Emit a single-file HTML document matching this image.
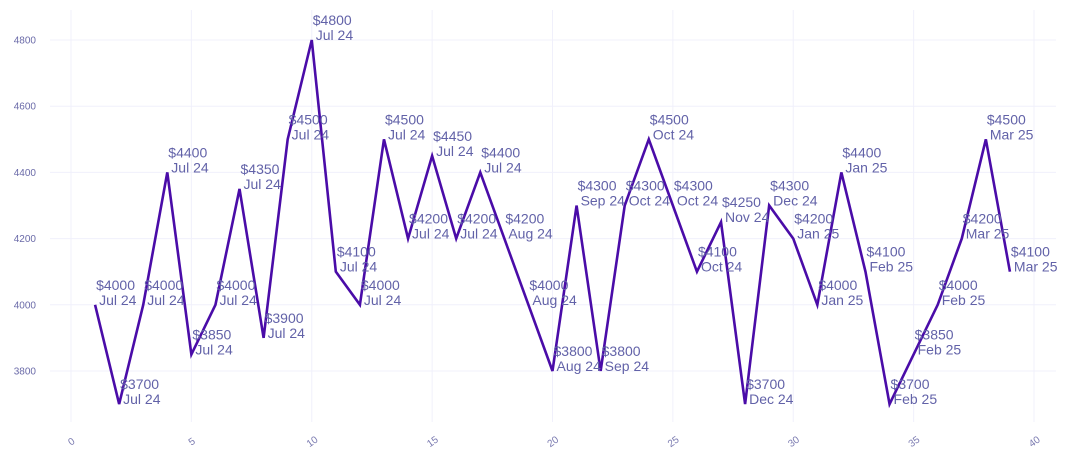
<!DOCTYPE html>
<html><head><meta charset="utf-8"><style>
body{margin:0;background:#fff;}
svg text{font-family:"Liberation Sans",sans-serif;}
</style></head><body>
<svg id="chart" width="1075" height="462" xmlns="http://www.w3.org/2000/svg">
<g id="grid"></g>
<g id="axes"></g>
<g id="series"></g>
<g id="labels"></g>
</svg>
<script>
const xValues=[1,2,3,4,5,6,7,8,9,10,11,12,13,14,15,16,17,18,19,20,21,22,23,24,25,26,27,28,29,30,31,32,33,34,35,36,37,38,39];
const prices=[4000,3700,4000,4400,3850,4000,4350,3900,4500,4800,4100,4000,4500,4200,4450,4200,4400,4200,4000,3800,4300,3800,4300,4500,4300,4100,4250,3700,4300,4200,4000,4400,4100,3700,3850,4000,4200,4500,4100];
const months=["Jul 24","Jul 24","Jul 24","Jul 24","Jul 24","Jul 24","Jul 24","Jul 24","Jul 24","Jul 24","Jul 24","Jul 24","Jul 24","Jul 24","Jul 24","Jul 24","Jul 24","Aug 24","Aug 24","Aug 24","Sep 24","Sep 24","Oct 24","Oct 24","Oct 24","Oct 24","Nov 24","Dec 24","Dec 24","Jan 25","Jan 25","Jan 25","Feb 25","Feb 25","Feb 25","Feb 25","Mar 25","Mar 25","Mar 25"];
const xTicks=[0,5,10,15,20,25,30,35,40];
const yTicks=[3800,4000,4200,4400,4600,4800];
const NS="http://www.w3.org/2000/svg";
const X=v=>71+v*24.075;
const Y=v=>40+(4800-v)*0.331;
function mk(tag,attrs,parent){const e=document.createElementNS(NS,tag);for(const k in attrs)e.setAttribute(k,attrs[k]);parent.appendChild(e);return e;}
const grid=document.getElementById('grid'),axes=document.getElementById('axes'),series=document.getElementById('series'),labels=document.getElementById('labels');
xTicks.forEach(t=>{
 const l=mk('line',{x1:X(t),x2:X(t),y1:10,y2:422,stroke:'#f0f0fb','stroke-width':1},grid);
 
 
 const tx=mk('text',{x:X(t),y:445,'font-size':10,fill:'#7a7ab0','text-anchor':'middle',transform:`rotate(-35 ${X(t)} 441)`},axes);
 tx.textContent=t;
 
 
});
yTicks.forEach(t=>{
 const l=mk('line',{x1:50,x2:1056,y1:Y(t),y2:Y(t),stroke:'#f0f0fb','stroke-width':1},grid);
 
 
 const tx=mk('text',{x:36,y:Y(t)+3.5,'font-size':10,fill:'#6a6aa8','text-anchor':'end'},axes);
 tx.textContent=t;
 
 
});
const pts=xValues.map((x,i)=>X(x)+','+Y(prices[i])).join(' ');
const pl=mk('polyline',{points:pts,fill:'none',stroke:'#4a0ca8','stroke-width':2.6,'stroke-linejoin':'miter'},series);


xValues.forEach((x,i)=>{
 const px=X(x),py=Y(prices[i]);
 const t1=mk('text',{x:px+1,y:py-15,'font-size':14,fill:'#6262a8'},labels);
 t1.textContent='$'+prices[i];
 
 
 const t2=mk('text',{x:px+4,y:py,'font-size':14,fill:'#6262a8'},labels);
 t2.textContent=months[i];
 
 
});
</script>
</body></html>
